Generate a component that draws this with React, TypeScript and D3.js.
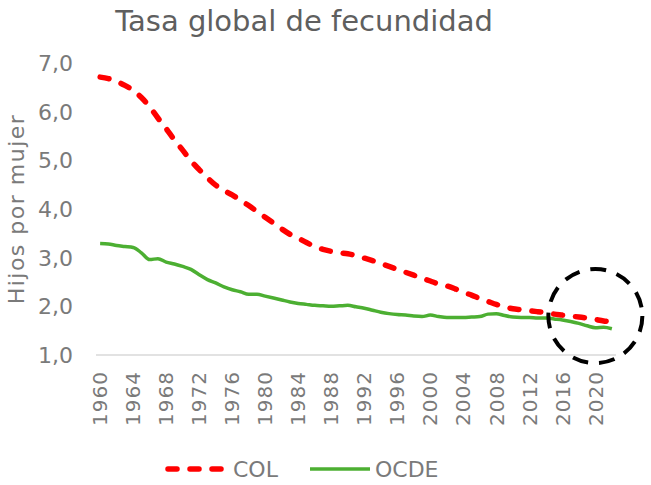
import React from 'react';
import * as d3 from 'd3';

// años 1960-2022
const years = d3.range(1960, 2023);
const tickYears = [1960, 1964, 1968, 1972, 1976, 1980, 1984, 1988, 1992, 1996, 2000, 2004, 2008, 2012, 2016, 2020];
const yTicks = [1, 2, 3, 4, 5, 6, 7];

// Tasa global de fecundidad, Colombia
const col = [
  6.71, 6.68, 6.62, 6.54, 6.44, 6.29, 6.10, 5.87, 5.65, 5.42,
  5.21, 4.99, 4.81, 4.64, 4.49, 4.38, 4.29, 4.18, 4.07, 3.95,
  3.83, 3.71, 3.59, 3.48, 3.40, 3.31, 3.23, 3.17, 3.13, 3.10,
  3.08, 3.04, 2.99, 2.94, 2.88, 2.82, 2.76, 2.70, 2.64, 2.58,
  2.52, 2.46, 2.42, 2.36, 2.29, 2.23, 2.16, 2.10, 2.04, 1.99,
  1.95, 1.93, 1.91, 1.89, 1.87, 1.84, 1.82, 1.80, 1.78, 1.76,
  1.73, 1.70, 1.68,
];

// OCDE
const ocde = [
  3.29, 3.28, 3.25, 3.23, 3.21, 3.10, 2.96, 2.98, 2.91, 2.87,
  2.82, 2.76, 2.65, 2.55, 2.48, 2.40, 2.34, 2.30, 2.25, 2.25,
  2.21, 2.17, 2.13, 2.09, 2.06, 2.04, 2.02, 2.01, 2.00, 2.01,
  2.02, 1.99, 1.96, 1.92, 1.88, 1.85, 1.83, 1.82, 1.80, 1.79,
  1.82, 1.79, 1.77, 1.77, 1.77, 1.78, 1.79, 1.84, 1.85, 1.81,
  1.78, 1.77, 1.77, 1.76, 1.76, 1.74, 1.72, 1.69, 1.65, 1.60,
  1.56, 1.57, 1.54,
];

// círculo de anotación
const highlightYear = 2020;
const highlightValue = 1.8;

const width = 651;
const height = 485;
const font = "'DejaVu Sans', sans-serif";
const red = '#ff0000';
const green = '#4caf32';
const grey = '#7a7a7a';

const App = () => {
  const x = d3.scaleBand<number>().domain(years).range([96, 616]);
  const xc = (yr: number) => (x(yr) as number) + x.bandwidth() / 2;
  const y = d3.scaleLinear().domain([1, 7]).range([355, 63]);

  const line = d3.line<number>()
    .x((d, i) => xc(years[i]))
    .y((d) => y(d))
    .curve(d3.curveMonotoneX);

  const labelTop = 371;

  return (
    <svg width={width} height={height} style={{ position: 'absolute', left: 0, top: 0, background: '#fff' }}>
      {/* titulo */}
      <text x={304} y={31} textAnchor="middle" fontFamily={font} fontSize={29} fill="#5f5f5f">
        Tasa global de fecundidad
      </text>

      {/* eje y */}
      {yTicks.map((t) => (
        <text key={t} x={73} y={y(t)} dy="0.36em" textAnchor="end" fontFamily={font} fontSize={22} fill={grey}>
          {d3.format('.1f')(t).replace('.', ',')}
        </text>
      ))}
      <text x={24} y={209} transform="rotate(-90, 24, 209)" textAnchor="middle" fontFamily={font} fontSize={22}
        letterSpacing={1.5} fill={grey}>
        Hijos por mujer
      </text>

      {/* linea base */}
      <line x1={96} x2={616} y1={355} y2={355} stroke="#d9d9d9" strokeWidth={1.5} />

      {/* eje x: etiquetas verticales */}
      {tickYears.map((yr) => (
        <text key={yr} x={xc(yr)} y={labelTop} dy="0.36em" textAnchor="end"
          transform={`rotate(-90, ${xc(yr)}, ${labelTop})`}
          fontFamily={font} fontSize={20} letterSpacing={1} fill={grey}>
          {String(yr)}
        </text>
      ))}

      {/* series */}
      <path d={line(ocde) || ''} fill="none" stroke={green} strokeWidth={3.5} strokeLinejoin="round" />
      <path d={line(col) || ''} fill="none" stroke={red} strokeWidth={5.5} strokeDasharray="9 13"
        strokeLinecap="round" strokeLinejoin="round" />

      {/* anotacion */}
      <circle cx={xc(highlightYear)} cy={y(highlightValue)} r={47} fill="none" stroke="#000"
        strokeWidth={4} strokeDasharray="16 11" />

      {/* leyenda */}
      <g fontFamily={font} fontSize={22} fill={grey}>
        <line x1={168} x2={228} y1={469} y2={469} stroke={red} strokeWidth={5.5} strokeDasharray="9 13"
          strokeLinecap="round" />
        <text x={233} y={469} dy="0.36em">COL</text>
        <line x1={310} x2={370} y1={469} y2={469} stroke={green} strokeWidth={3.5} />
        <text x={375} y={469} dy="0.36em">OCDE</text>
      </g>
    </svg>
  );
};

export default App;
